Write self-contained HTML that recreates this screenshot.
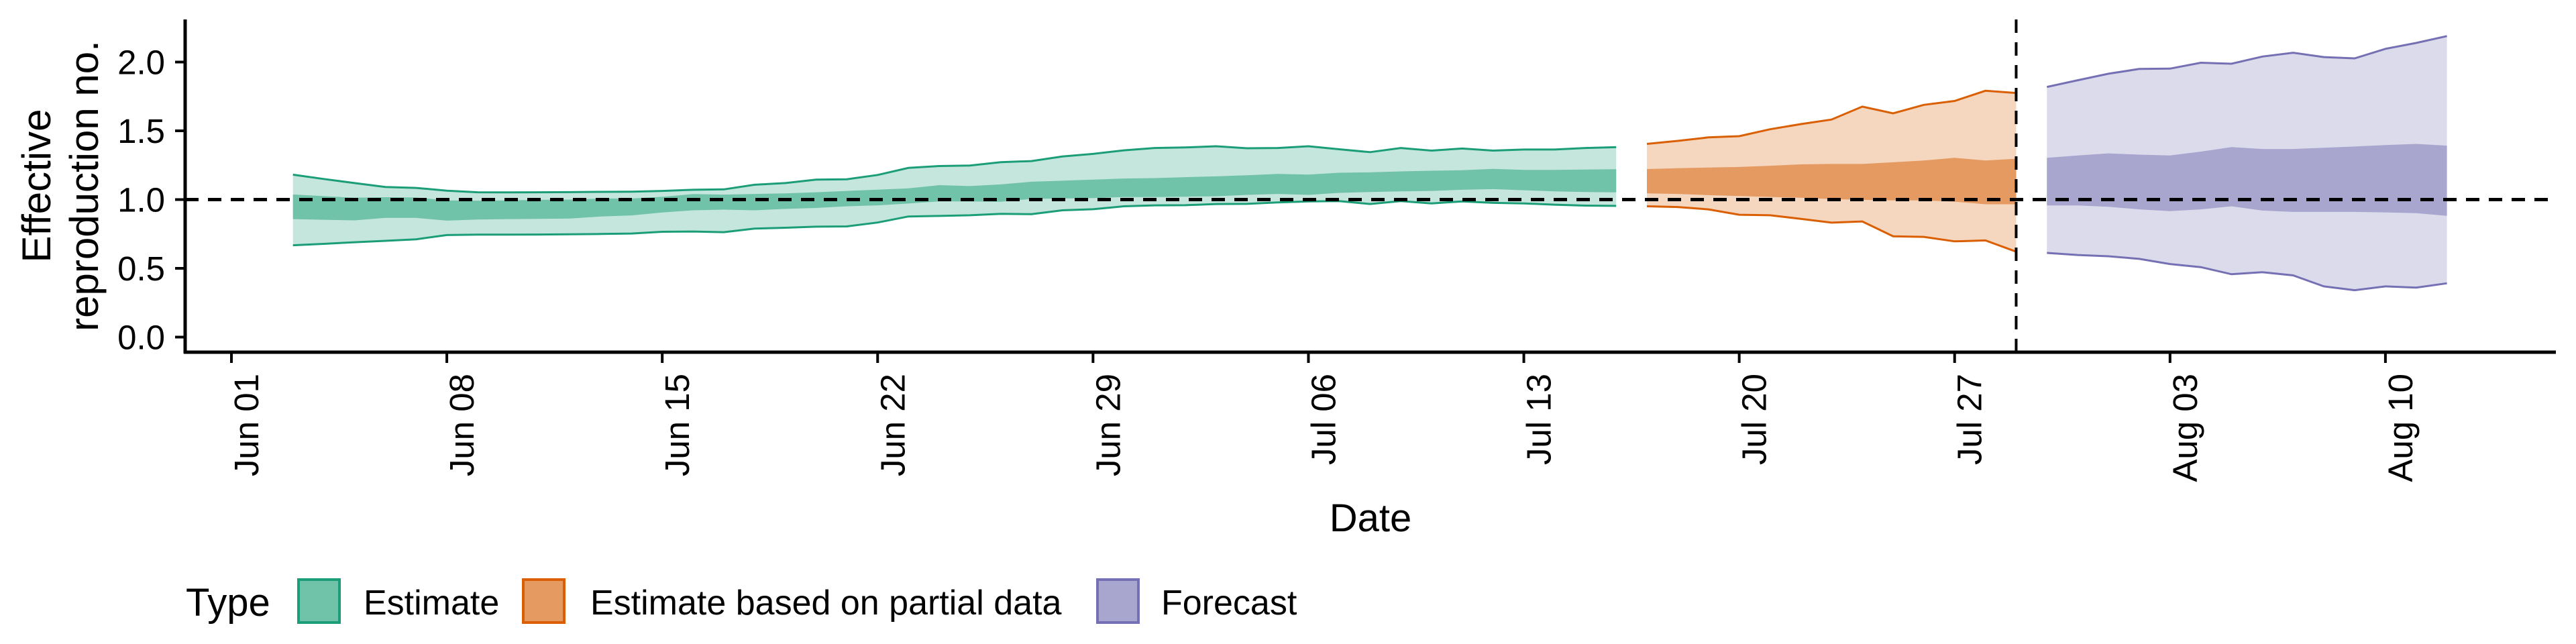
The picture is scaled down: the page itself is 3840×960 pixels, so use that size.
<!DOCTYPE html>
<html><head><meta charset="utf-8">
<style>
html,body{margin:0;padding:0;background:#fff;}
svg{display:block;font-family:"Liberation Sans",Arial,sans-serif;}
</style></head>
<body>
<svg id="chart" width="3840" height="960" viewBox="0 0 3840 960" xmlns="http://www.w3.org/2000/svg">
  <rect x="0" y="0" width="3840" height="960" fill="#fff"/>
  <g id="bands"></g>
  <g id="axes"></g>
  <g font-size="60" fill="#000" text-anchor="middle">
    <text transform="translate(75,277) rotate(-90)">Effective</text>
    <text transform="translate(146,277) rotate(-90)">reproduction no.</text>
  </g>
  <text x="2043" y="792" font-size="58" text-anchor="middle">Date</text>
  <g font-size="52">
    <text x="277" y="918" font-size="58">Type</text>
    <g>
      <rect x="445" y="864" width="61" height="64" fill="#70C2A9" stroke="#1B9E77" stroke-width="4"/>
      <text x="542" y="916">Estimate</text>
    </g>
    <g>
      <rect x="780" y="864" width="61" height="64" fill="#E59A62" stroke="#D95F02" stroke-width="4"/>
      <text x="880" y="916">Estimate based on partial data</text>
    </g>
    <g>
      <rect x="1636" y="864" width="61" height="64" fill="#A8A5CF" stroke="#7570B3" stroke-width="4"/>
      <text x="1731" y="916">Forecast</text>
    </g>
  </g>
</svg>
<script>
// days since Jun 01
const estDays = [2,3,4,5,6,7,8,9,10,11,12,13,14,15,16,17,18,19,20,21,22,23,24,25,26,27,28,29,30,31,32,33,34,35,36,37,38,39,40,41,42,43,44,45];
const estUpper90 = [1.181,1.150,1.120,1.091,1.085,1.065,1.053,1.052,1.053,1.054,1.056,1.057,1.063,1.071,1.074,1.108,1.120,1.145,1.148,1.179,1.230,1.244,1.248,1.272,1.280,1.313,1.332,1.358,1.375,1.379,1.388,1.373,1.375,1.388,1.366,1.345,1.375,1.356,1.371,1.356,1.364,1.364,1.375,1.381];
const estLower90 = [0.668,0.678,0.690,0.700,0.711,0.742,0.745,0.745,0.746,0.748,0.750,0.753,0.766,0.768,0.763,0.789,0.795,0.803,0.805,0.833,0.877,0.881,0.886,0.896,0.894,0.922,0.930,0.951,0.958,0.959,0.968,0.969,0.979,0.987,0.989,0.968,0.989,0.972,0.987,0.976,0.972,0.963,0.956,0.954];
const estUpper50 = [1.037,1.025,1.013,1.017,1.015,0.994,0.992,0.994,0.998,1.000,1.008,1.008,1.020,1.040,1.036,1.041,1.045,1.053,1.063,1.072,1.082,1.105,1.098,1.110,1.130,1.137,1.145,1.153,1.156,1.163,1.169,1.177,1.187,1.182,1.195,1.198,1.205,1.210,1.213,1.223,1.216,1.216,1.218,1.221];
const estLower50 = [0.858,0.853,0.849,0.867,0.867,0.847,0.855,0.858,0.860,0.862,0.877,0.885,0.906,0.922,0.927,0.922,0.932,0.939,0.951,0.958,0.971,0.987,0.987,0.984,1.005,1.008,1.011,1.018,1.018,1.021,1.024,1.034,1.041,1.034,1.049,1.055,1.060,1.063,1.071,1.076,1.068,1.060,1.055,1.052];

const partDays = [46,47,48,49,50,51,52,53,54,55,56,57,58];
const partUpper90 = [1.405,1.427,1.452,1.461,1.511,1.549,1.582,1.676,1.627,1.689,1.717,1.791,1.775];
const partLower90 = [0.951,0.946,0.929,0.890,0.886,0.860,0.832,0.841,0.733,0.729,0.696,0.703,0.621];
const partUpper50 = [1.222,1.228,1.233,1.237,1.246,1.256,1.259,1.259,1.271,1.284,1.304,1.284,1.297];
const partLower50 = [1.045,1.041,1.032,1.026,1.019,1.013,1.004,0.998,0.994,0.994,0.985,0.966,0.966];

const foreDays = [59,60,61,62,63,64,65,66,67,68,69,70,71,72];
const foreUpper90 = [1.819,1.868,1.915,1.950,1.952,1.995,1.988,2.040,2.068,2.036,2.027,2.096,2.139,2.189];
const foreLower90 = [0.612,0.597,0.588,0.569,0.531,0.509,0.457,0.472,0.449,0.369,0.341,0.369,0.360,0.391];
const foreUpper50 = [1.304,1.321,1.336,1.327,1.321,1.349,1.382,1.368,1.368,1.377,1.386,1.396,1.405,1.392];
const foreLower50 = [0.957,0.957,0.948,0.929,0.916,0.929,0.951,0.920,0.910,0.910,0.910,0.907,0.901,0.882];

const xTickDays = [0,7,14,21,28,35,42,49,56,63,70];
const xTickLabels = ["Jun 01","Jun 08","Jun 15","Jun 22","Jun 29","Jul 06","Jul 13","Jul 20","Jul 27","Aug 03","Aug 10"];
const yTicks = [0,0.5,1,1.5,2];
const yTickLabels = ["0.0","0.5","1.0","1.5","2.0"];
const forecastStartDay = 58;
const refValue = 1;

const X0 = 345, DAY = 45.87;
const Y0 = 502.5, UNIT = 205;
const PL = 276, PR = 3810, PT = 29, PB = 525;
function sx(d){ return X0 + d*DAY; }
function sy(v){ return Y0 - v*UNIT; }
const NS = "http://www.w3.org/2000/svg";
function mk(tag, attrs, parent){
  const e = document.createElementNS(NS, tag);
  for (const k in attrs) e.setAttribute(k, attrs[k]);
  parent.appendChild(e);
  return e;
}
const bands = document.getElementById('bands');
const axes = document.getElementById('axes');

function area(days, up, lo){
  let d = "M" + days.map((x,i)=>sx(x).toFixed(1)+","+sy(up[i]).toFixed(1)).join("L");
  for (let i=days.length-1;i>=0;i--) d += "L"+sx(days[i]).toFixed(1)+","+sy(lo[i]).toFixed(1);
  return d+"Z";
}
function line(days, vals){
  return "M" + days.map((x,i)=>sx(x).toFixed(1)+","+sy(vals[i]).toFixed(1)).join("L");
}
function series(name, days, u90, l90, u50, l50, light, dark, stroke){
  const g = mk('g', {}, bands);
  
  
  const a = mk('path', {d: area(days,u90,l90), fill: light}, g);
  
  
  const b = mk('path', {d: area(days,u50,l50), fill: dark}, g);
  
  
  const c = mk('path', {d: line(days,u90), fill: 'none', stroke: stroke, 'stroke-width': 3}, g);
  
  
  const e = mk('path', {d: line(days,l90), fill: 'none', stroke: stroke, 'stroke-width': 3}, g);
  
  
}
series('estimate', estDays, estUpper90, estLower90, estUpper50, estLower50, '#C5E6DC', '#70C2A9', '#1B9E77');
series('partial', partDays, partUpper90, partLower90, partUpper50, partLower50, '#F5D6BF', '#E59A62', '#D95F02');
series('forecast', foreDays, foreUpper90, foreLower90, foreUpper50, foreLower50, '#DCDBEB', '#A8A5CF', '#7570B3');

// reference lines
const h = mk('line', {x1: PL, x2: PR, y1: sy(refValue), y2: sy(refValue), stroke: '#000', 'stroke-width': 5, 'stroke-dasharray': '20 14'}, axes);


const v = mk('line', {x1: sx(forecastStartDay), x2: sx(forecastStartDay), y1: PT, y2: PB, stroke: '#000', 'stroke-width': 4, 'stroke-dasharray': '20 14'}, axes);



// axis lines
const ya = mk('line', {x1: PL, x2: PL, y1: PT, y2: PB+2, stroke: '#000', 'stroke-width': 5}, axes);


const xa = mk('line', {x1: PL-2, x2: PR, y1: PB, y2: PB, stroke: '#000', 'stroke-width': 5}, axes);



yTicks.forEach((t,i)=>{
  const tk = mk('line', {x1: PL-15, x2: PL, y1: sy(t), y2: sy(t), stroke: '#000', 'stroke-width': 4}, axes);
  
  
  const tx = mk('text', {x: 246, y: sy(t)+18, 'font-size': 51, 'text-anchor': 'end'}, axes);
  
  
  tx.textContent = yTickLabels[i];
});
xTickDays.forEach((d,i)=>{
  const x = sx(d);
  const tk = mk('line', {x1: x, x2: x, y1: PB, y2: PB+16, stroke: '#000', 'stroke-width': 4}, axes);
  
  
  const tx = mk('text', {transform: 'translate('+(x+40)+',557) rotate(-90)', 'font-size': 51, 'text-anchor': 'end'}, axes);
  
  
  tx.textContent = xTickLabels[i];
});
</script>
</body></html>
